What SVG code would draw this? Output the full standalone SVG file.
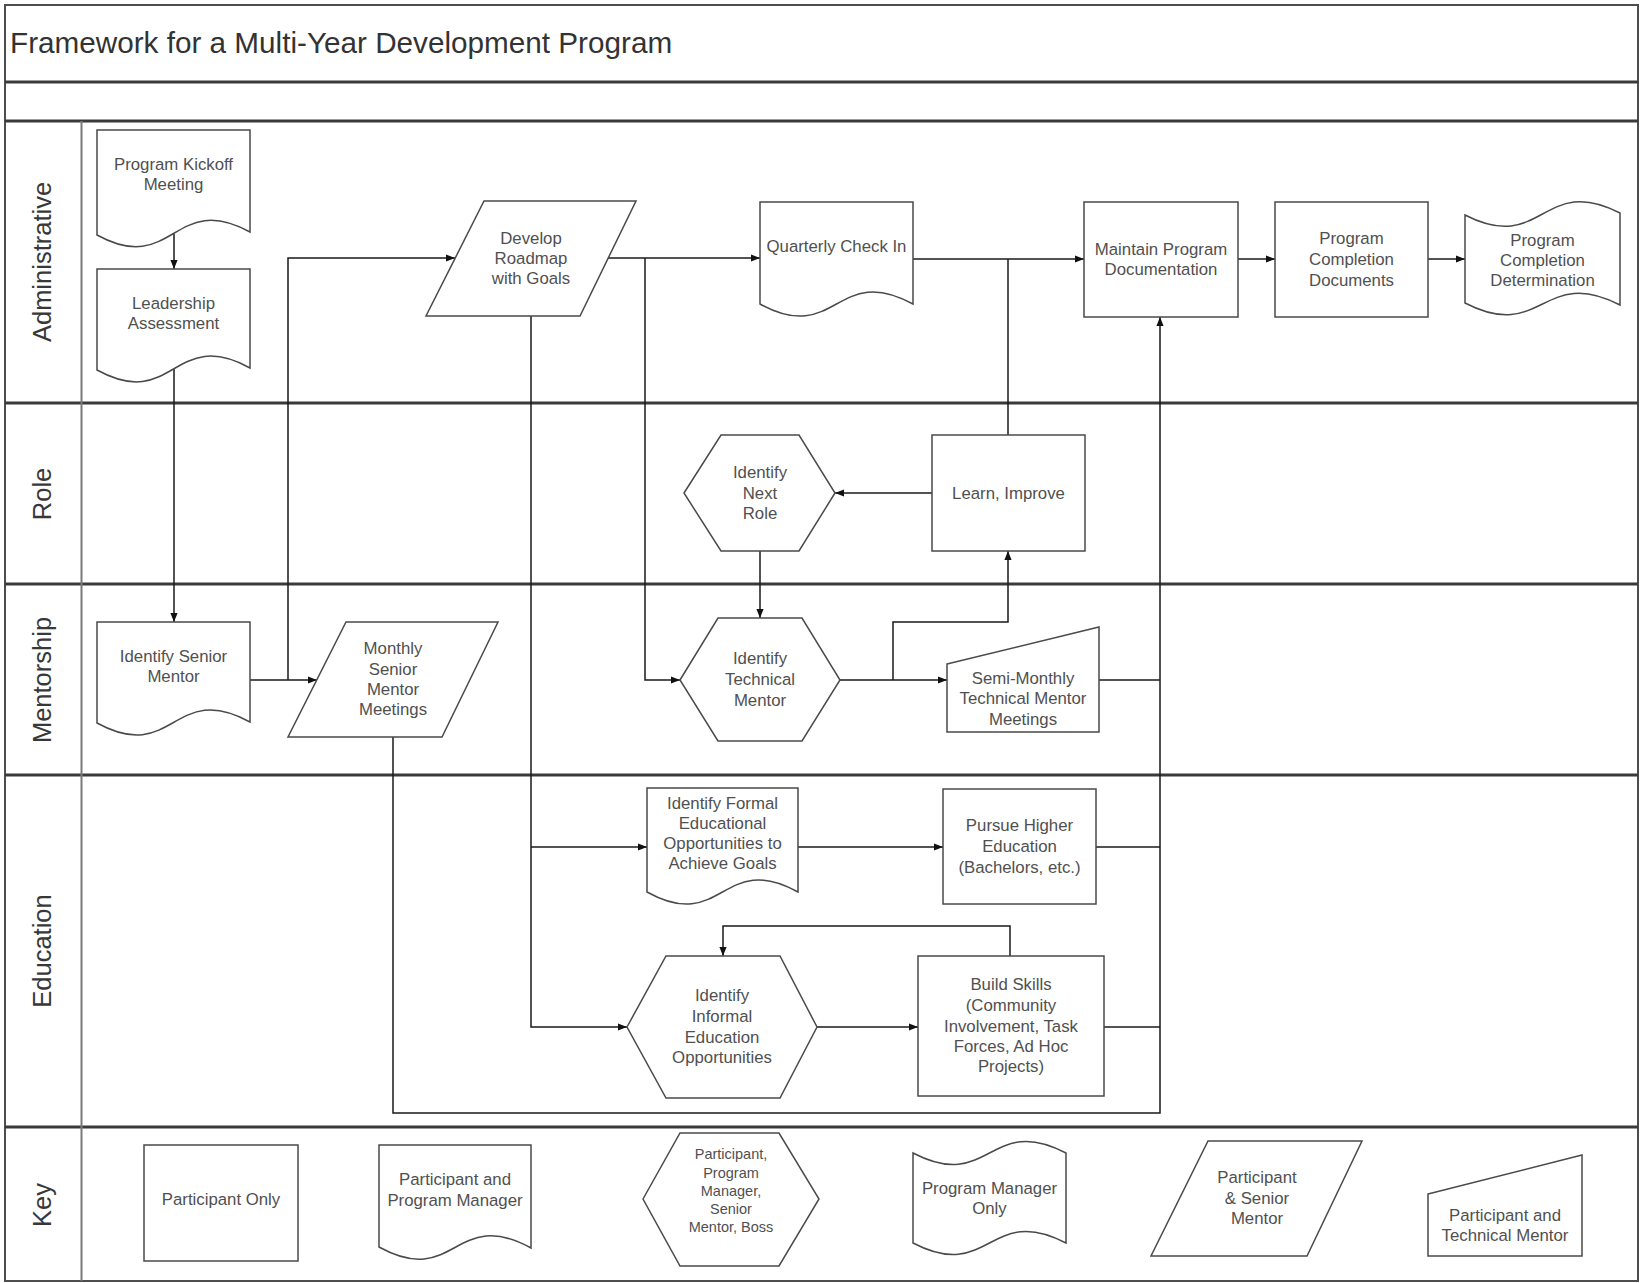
<svg xmlns="http://www.w3.org/2000/svg" width="1640" height="1283" viewBox="0 0 1640 1283">
  <style>
    .frame{fill:none;stroke:#4d4d4d;stroke-width:2}
    .div{stroke:#3a3a3a;stroke-width:3}
    .col{stroke:#7a7a7a;stroke-width:2}
    .shape{fill:#fff;stroke:#4a4a4a;stroke-width:1.5}
    .label{font-family:"Liberation Sans",Arial,sans-serif;font-size:16.8px;fill:#505050;text-anchor:middle}
    .small{font-size:14.5px}
    .lane{font-family:"Liberation Sans",Arial,sans-serif;font-size:25.5px;fill:#383838;text-anchor:middle}
    .title{font-family:"Liberation Sans",Arial,sans-serif;font-size:29.7px;fill:#333}
    .conn path{fill:none;stroke:#1a1a1a;stroke-width:1.5}
  </style>
  <defs>
    <marker id="arrow" viewBox="0 0 10 8" refX="10" refY="4" markerWidth="9" markerHeight="7.5" orient="auto" markerUnits="userSpaceOnUse">
      <path d="M0,0 L10,4 L0,8 Z" fill="#111"/>
    </marker>
  </defs>

  <rect width="1640" height="1283" fill="#fff"/>

  <!-- swimlane frame -->
  <g id="lanes">
    <rect class="frame" x="5" y="5" width="1633" height="1276"/>
    <line class="div" x1="5" y1="82" x2="1638" y2="82"/>
    <line class="div" x1="5" y1="121" x2="1638" y2="121"/>
    <line class="div" x1="5" y1="403" x2="1638" y2="403"/>
    <line class="div" x1="5" y1="584" x2="1638" y2="584"/>
    <line class="div" x1="5" y1="775" x2="1638" y2="775"/>
    <line class="div" x1="5" y1="1127" x2="1638" y2="1127"/>
    <line class="col" x1="81.5" y1="121" x2="81.5" y2="1281"/>
    <text class="title" x="10" y="53">Framework for a Multi-Year Development Program</text>
    <text class="lane" transform="translate(51,262) rotate(-90)">Administrative</text>
    <text class="lane" transform="translate(51,494) rotate(-90)">Role</text>
    <text class="lane" transform="translate(51,680) rotate(-90)">Mentorship</text>
    <text class="lane" transform="translate(51,951) rotate(-90)">Education</text>
    <text class="lane" transform="translate(51,1205) rotate(-90)">Key</text>
  </g>

  <!-- connectors -->
  <g id="connectors" class="conn">
    <path d="M174,234 V269" marker-end="url(#arrow)"/>
    <path d="M174,369 V622" marker-end="url(#arrow)"/>
    <path d="M250,680 H317" marker-end="url(#arrow)"/>
    <path d="M288,680 V258 H455" marker-end="url(#arrow)"/>
    <path d="M608,258 H760" marker-end="url(#arrow)"/>
    <path d="M645,258 V680 H680" marker-end="url(#arrow)"/>
    <path d="M531,316 V1027 H627" marker-end="url(#arrow)"/>
    <path d="M531,847 H647" marker-end="url(#arrow)"/>
    <path d="M913,259 H1084" marker-end="url(#arrow)"/>
    <path d="M1008,435 V259"/>
    <path d="M1238,259 H1275" marker-end="url(#arrow)"/>
    <path d="M1428,259 H1465" marker-end="url(#arrow)"/>
    <path d="M932,493 H835" marker-end="url(#arrow)"/>
    <path d="M760,551 V618" marker-end="url(#arrow)"/>
    <path d="M840,680 H947" marker-end="url(#arrow)"/>
    <path d="M893,680 V622 H1008 V551" marker-end="url(#arrow)"/>
    <path d="M1099,680 H1160"/>
    <path d="M393,737 V1113 H1160 V317" marker-end="url(#arrow)"/>
    <path d="M798,847 H943" marker-end="url(#arrow)"/>
    <path d="M1096,847 H1160"/>
    <path d="M817,1027 H918" marker-end="url(#arrow)"/>
    <path d="M1104,1027 H1160"/>
    <path d="M1010,956 V926 H723 V956" marker-end="url(#arrow)"/>
  </g>

  <!-- Administrative lane -->
  <g id="kickoff">
    <path class="shape" d="M97,130 H250 V232 C173.5,190 173.5,277 97,235 Z"/>
    <text class="label"><tspan x="173.5" y="170">Program Kickoff</tspan><tspan x="173.5" y="190">Meeting</tspan></text>
  </g>
  <g id="leadership-assessment">
    <path class="shape" d="M97,269 H250 V368 C173.5,326 173.5,412 97,370 Z"/>
    <text class="label"><tspan x="173.5" y="309">Leadership</tspan><tspan x="173.5" y="329">Assessment</tspan></text>
  </g>
  <g id="develop-roadmap">
    <path class="shape" d="M484,201 H636 L580,316 H426 Z"/>
    <text class="label"><tspan x="531" y="244">Develop</tspan><tspan x="531" y="264">Roadmap</tspan><tspan x="531" y="284">with Goals</tspan></text>
  </g>
  <g id="quarterly-check-in">
    <path class="shape" d="M760,202 H913 V304 C836.5,262 836.5,346 760,304 Z"/>
    <text class="label"><tspan x="836.5" y="252">Quarterly Check In</tspan></text>
  </g>
  <g id="maintain-documentation">
    <rect class="shape" x="1084" y="202" width="154" height="115"/>
    <text class="label"><tspan x="1161" y="255">Maintain Program</tspan><tspan x="1161" y="275">Documentation</tspan></text>
  </g>
  <g id="completion-documents">
    <rect class="shape" x="1275" y="202" width="153" height="115"/>
    <text class="label"><tspan x="1351.5" y="244">Program</tspan><tspan x="1351.5" y="265">Completion</tspan><tspan x="1351.5" y="286">Documents</tspan></text>
  </g>
  <g id="completion-determination">
    <path class="shape" d="M1465,215 C1542.5,255 1542.5,173 1620,213 V305 C1542.5,265 1542.5,343 1465,303 Z"/>
    <text class="label"><tspan x="1542.5" y="246">Program</tspan><tspan x="1542.5" y="266">Completion</tspan><tspan x="1542.5" y="286">Determination</tspan></text>
  </g>

  <!-- Role lane -->
  <g id="identify-next-role">
    <path class="shape" d="M684,493 L721,435 H799 L835,493 L799,551 H721 Z"/>
    <text class="label"><tspan x="760" y="478">Identify</tspan><tspan x="760" y="499">Next</tspan><tspan x="760" y="519">Role</tspan></text>
  </g>
  <g id="learn-improve">
    <rect class="shape" x="932" y="435" width="153" height="116"/>
    <text class="label"><tspan x="1008.5" y="499">Learn, Improve</tspan></text>
  </g>

  <!-- Mentorship lane -->
  <g id="identify-senior-mentor">
    <path class="shape" d="M97,622 H250 V722 C173.5,680 173.5,765 97,723 Z"/>
    <text class="label"><tspan x="173.5" y="662">Identify Senior</tspan><tspan x="173.5" y="682">Mentor</tspan></text>
  </g>
  <g id="monthly-senior-mentor-meetings">
    <path class="shape" d="M346,622 H498 L442,737 H288 Z"/>
    <text class="label"><tspan x="393" y="654">Monthly</tspan><tspan x="393" y="675">Senior</tspan><tspan x="393" y="695">Mentor</tspan><tspan x="393" y="715">Meetings</tspan></text>
  </g>
  <g id="identify-technical-mentor">
    <path class="shape" d="M680,680 L718,618 H802 L840,680 L802,741 H718 Z"/>
    <text class="label"><tspan x="760" y="664">Identify</tspan><tspan x="760" y="685">Technical</tspan><tspan x="760" y="706">Mentor</tspan></text>
  </g>
  <g id="semi-monthly-meetings">
    <path class="shape" d="M947,664 L1099,627 V732 H947 Z"/>
    <text class="label"><tspan x="1023" y="684">Semi-Monthly</tspan><tspan x="1023" y="704">Technical Mentor</tspan><tspan x="1023" y="725">Meetings</tspan></text>
  </g>

  <!-- Education lane -->
  <g id="identify-formal-education">
    <path class="shape" d="M647,788 H798 V892 C722.5,850 722.5,934 647,892 Z"/>
    <text class="label"><tspan x="722.5" y="809">Identify Formal</tspan><tspan x="722.5" y="829">Educational</tspan><tspan x="722.5" y="849">Opportunities to</tspan><tspan x="722.5" y="869">Achieve Goals</tspan></text>
  </g>
  <g id="pursue-higher-education">
    <rect class="shape" x="943" y="789" width="153" height="115"/>
    <text class="label"><tspan x="1019.5" y="831">Pursue Higher</tspan><tspan x="1019.5" y="852">Education</tspan><tspan x="1019.5" y="873">(Bachelors, etc.)</tspan></text>
  </g>
  <g id="identify-informal-education">
    <path class="shape" d="M627,1027 L666,956 H780 L817,1027 L780,1098 H666 Z"/>
    <text class="label"><tspan x="722" y="1001">Identify</tspan><tspan x="722" y="1022">Informal</tspan><tspan x="722" y="1043">Education</tspan><tspan x="722" y="1063">Opportunities</tspan></text>
  </g>
  <g id="build-skills">
    <rect class="shape" x="918" y="956" width="186" height="140"/>
    <text class="label"><tspan x="1011" y="990">Build Skills</tspan><tspan x="1011" y="1011">(Community</tspan><tspan x="1011" y="1032">Involvement, Task</tspan><tspan x="1011" y="1052">Forces, Ad Hoc</tspan><tspan x="1011" y="1072">Projects)</tspan></text>
  </g>

  <!-- Key lane -->
  <g id="key-participant-only">
    <rect class="shape" x="144" y="1145" width="154" height="116"/>
    <text class="label"><tspan x="221" y="1205">Participant Only</tspan></text>
  </g>
  <g id="key-participant-program-manager">
    <path class="shape" d="M379,1145 H531 V1248 C455,1206 455,1289 379,1247 Z"/>
    <text class="label"><tspan x="455" y="1185">Participant and</tspan><tspan x="455" y="1206">Program Manager</tspan></text>
  </g>
  <g id="key-all-parties">
    <path class="shape" d="M643,1199 L680,1133 H779 L819,1199 L779,1266 H680 Z"/>
    <text class="label small"><tspan x="731" y="1159">Participant,</tspan><tspan x="731" y="1178">Program</tspan><tspan x="731" y="1196">Manager,</tspan><tspan x="731" y="1214">Senior</tspan><tspan x="731" y="1232">Mentor, Boss</tspan></text>
  </g>
  <g id="key-program-manager-only">
    <path class="shape" d="M913,1153 C989.5,1193 989.5,1113 1066,1153 V1243 C989.5,1203 989.5,1283 913,1243 Z"/>
    <text class="label"><tspan x="989.5" y="1194">Program Manager</tspan><tspan x="989.5" y="1214">Only</tspan></text>
  </g>
  <g id="key-participant-senior-mentor">
    <path class="shape" d="M1208,1141 H1362 L1307,1256 H1151 Z"/>
    <text class="label"><tspan x="1257" y="1183">Participant</tspan><tspan x="1257" y="1204">&amp; Senior</tspan><tspan x="1257" y="1224">Mentor</tspan></text>
  </g>
  <g id="key-participant-technical-mentor">
    <path class="shape" d="M1428,1194 L1582,1155 V1256 H1428 Z"/>
    <text class="label"><tspan x="1505" y="1221">Participant and</tspan><tspan x="1505" y="1241">Technical Mentor</tspan></text>
  </g>
</svg>
